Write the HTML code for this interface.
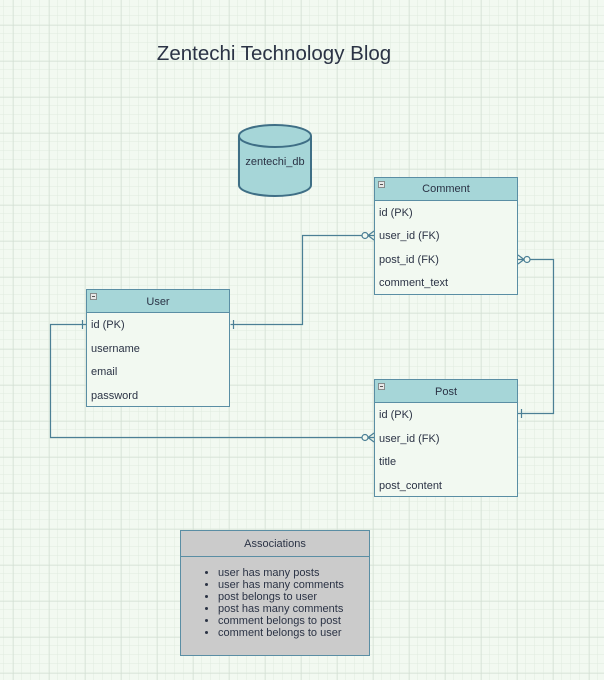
<!DOCTYPE html>
<html><head><meta charset="utf-8"><style>
html,body{margin:0;padding:0;width:604px;height:680px;overflow:hidden;background:#f2f9f1;}
svg{display:block;}
text{font-family:"Liberation Sans",Arial,sans-serif;fill:#2b3345;}
</style></head><body>
<svg width="604" height="680" viewBox="0 0 604 680" xmlns="http://www.w3.org/2000/svg">
<defs>
<pattern id="minor" x="4" y="7" width="9" height="9" patternUnits="userSpaceOnUse">
<path d="M9 0V9M0 9H9" stroke="#e0ebe0" stroke-width="1" fill="none"/>
</pattern>
<pattern id="major" x="13.5" y="25.5" width="36" height="36" patternUnits="userSpaceOnUse">
<path d="M0 0V36M0 0H36" stroke="#cfdccf" stroke-width="1" fill="none"/>
</pattern>
</defs>
<rect width="604" height="680" fill="#f2f9f1"/>
<rect width="604" height="680" fill="url(#minor)"/>
<rect width="604" height="680" fill="url(#major)"/>

<text x="274" y="60" font-size="20.5" text-anchor="middle" fill="#2b3345">Zentechi Technology Blog</text>

<!-- cylinder -->
<g stroke="#3f6f86" stroke-width="2" fill="#a6d6d8">
<path d="M239 136 V185 A36 11 0 0 0 311 185 V136" fill="#a6d6d8"/>
<ellipse cx="275" cy="136" rx="36" ry="11"/>
</g>
<text x="275" y="165" font-size="11" text-anchor="middle">zentechi_db</text>

<!-- connectors -->
<g stroke="#4b7f95" stroke-width="1.2" fill="none">
<path d="M230.5 324.5 H302.5 V235.5 H362"/>
<path d="M233.5 320 V329"/>
<circle cx="365" cy="235.5" r="3" fill="#f2f9f1"/>
<path d="M368 235.5 L374 231 M368 235.5 L374 240 M368 235.5 H374"/>

<path d="M86 324.5 H50.5 V437.5 H362"/>
<path d="M82.5 320 V329"/>
<circle cx="365" cy="437.5" r="3" fill="#f2f9f1"/>
<path d="M368 437.5 L374 433 M368 437.5 L374 442 M368 437.5 H374"/>

<path d="M530 259.5 H553.5 V413.5 H518"/>
<circle cx="527" cy="259.5" r="3" fill="#f2f9f1"/>
<path d="M524 259.5 L518 255 M524 259.5 L518 264 M524 259.5 H518"/>
<path d="M521.5 409 V418"/>
</g>

<!-- User -->
<g>
<rect x="86.5" y="289.5" width="143" height="117" fill="#f2f9f1" stroke="#5a8ea4"/>
<rect x="86.5" y="289.5" width="143" height="23" fill="#a6d6d8" stroke="#5a8ea4"/>
<rect x="90.5" y="293.5" width="6" height="6" fill="#e8e8e8" stroke="#777" stroke-width="0.8"/>
<path d="M92 296.5h3" stroke="#555"/>
<text x="158" y="305" font-size="11" text-anchor="middle">User</text>
<text x="91" y="328" font-size="11">id (PK)</text>
<text x="91" y="352" font-size="11">username</text>
<text x="91" y="375" font-size="11">email</text>
<text x="91" y="399" font-size="11">password</text>
</g>

<!-- Comment -->
<g>
<rect x="374.5" y="177.5" width="143" height="117" fill="#f2f9f1" stroke="#5a8ea4"/>
<rect x="374.5" y="177.5" width="143" height="23" fill="#a6d6d8" stroke="#5a8ea4"/>
<rect x="378.5" y="181.5" width="6" height="6" fill="#e8e8e8" stroke="#777" stroke-width="0.8"/>
<path d="M380 184.5h3" stroke="#555"/>
<text x="446" y="192" font-size="11" text-anchor="middle">Comment</text>
<text x="379" y="216" font-size="11">id (PK)</text>
<text x="379" y="239" font-size="11">user_id (FK)</text>
<text x="379" y="263" font-size="11">post_id (FK)</text>
<text x="379" y="286" font-size="11">comment_text</text>
</g>

<!-- Post -->
<g>
<rect x="374.5" y="379.5" width="143" height="117" fill="#f2f9f1" stroke="#5a8ea4"/>
<rect x="374.5" y="379.5" width="143" height="23" fill="#a6d6d8" stroke="#5a8ea4"/>
<rect x="378.5" y="383.5" width="6" height="6" fill="#e8e8e8" stroke="#777" stroke-width="0.8"/>
<path d="M380 386.5h3" stroke="#555"/>
<text x="446" y="395" font-size="11" text-anchor="middle">Post</text>
<text x="379" y="418" font-size="11">id (PK)</text>
<text x="379" y="442" font-size="11">user_id (FK)</text>
<text x="379" y="465" font-size="11">title</text>
<text x="379" y="489" font-size="11">post_content</text>
</g>

<!-- Associations -->
<g>
<rect x="180.5" y="530.5" width="189" height="125" fill="#cbcbcb" stroke="#5a8ea4"/>
<path d="M180.5 556.5 H369.5" stroke="#5a8ea4"/>
<text x="275" y="547" font-size="11" text-anchor="middle">Associations</text>
<g font-size="11">
<text x="218" y="576">user has many posts</text>
<text x="218" y="588">user has many comments</text>
<text x="218" y="600">post belongs to user</text>
<text x="218" y="612">post has many comments</text>
<text x="218" y="624">comment belongs to post</text>
<text x="218" y="636">comment belongs to user</text>
</g>
<g fill="#2b3345">
<circle cx="206.5" cy="572.5" r="1.5"/>
<circle cx="206.5" cy="584.5" r="1.5"/>
<circle cx="206.5" cy="596.5" r="1.5"/>
<circle cx="206.5" cy="608.5" r="1.5"/>
<circle cx="206.5" cy="620.5" r="1.5"/>
<circle cx="206.5" cy="632.5" r="1.5"/>
</g>
</g>
</svg>
</body></html>
